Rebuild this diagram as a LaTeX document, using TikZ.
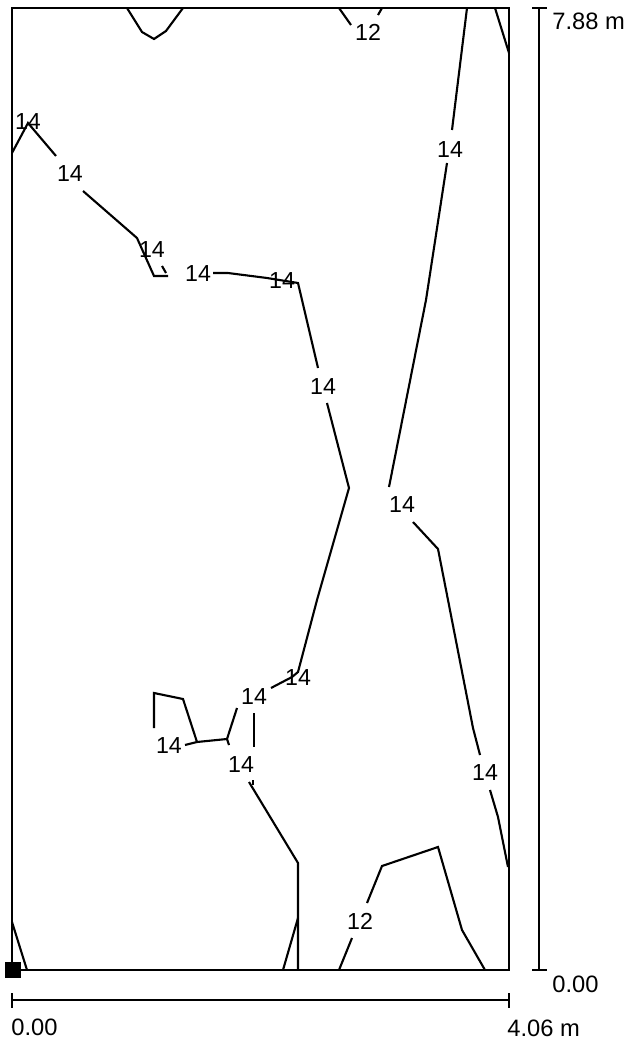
\documentclass[tikz,border=0pt]{standalone}
\usepackage{fontspec}
\setmainfont{Liberation Sans}
\usepackage{tikz}

\begin{document}
\begin{tikzpicture}[x=0.02cm, y=-0.02cm]
        % ================= styles =================
        \tikzset{
            frame/.style={line width=1.2pt, black},
            iso/.style={line width=1.2pt, black, line join=miter},
            lbl/.style={inner sep=0pt, font=\fontsize{13.2}{15}\selectfont},
            dimtxt/.style={inner sep=0pt, anchor=west, font=\fontsize{13.5}{15}\selectfont}
        }
        \useasboundingbox (0,0) rectangle (629,1040);

        % ================= room outline =================
        \draw[frame] (12,8) rectangle (509,970);
        \fill (5,962) rectangle (21,978);   % origin marker

        % ================= dimension lines =================
        \draw[frame] (539,8) -- (539,970);
        \draw[frame] (532,8) -- (547,8);
        \draw[frame] (532,970) -- (547,970);
        \node[dimtxt] (htop) at (552,21) {7.88 m};
        \node[dimtxt] (hbot) at (552,984) {0.00};

        \draw[frame] (12,1000) -- (509,1000);
        \draw[frame] (12,993) -- (12,1008);
        \draw[frame] (509,993) -- (509,1008);
        \node[dimtxt] (wleft) at (11,1027) {0.00};
        \node[dimtxt] (wright) at (507,1028) {4.06 m};

        % ================= top edge =================
        \draw[iso] (127,8) -- (142,32) -- (154,39) -- (166,31) -- (183,8);
        \draw[iso] (339,8) -- (351,25);
        \draw[iso] (378,15) -- (382,8);
        \node[lbl] (t12) at (368,32) {12};
        \draw[iso] (495,8) -- (509,53);

        % ================= right contour (14) =================
        \draw[iso] (467,8) -- (452,130);
        \node[lbl] (r1) at (450,150) {14};
        \draw[iso] (447,163) -- (426,300) -- (389,487);
        \node[lbl] (r2) at (402,505) {14};
        \draw[iso] (413,522) -- (438,549) -- (448,600) -- (473,728) -- (480,755);
        \node[lbl] (r3) at (485,773) {14};
        \draw[iso] (490,790) -- (498,817) -- (508,867);

        % ================= left/middle contour (14) =================
        \draw[iso] (12,153) -- (28,123) -- (56,156);
        \node[lbl] (l1) at (28,122) {14};
        \node[lbl] (l2) at (70,174) {14};
        \draw[iso] (83,191) -- (137,238) -- (154,276) -- (168,276);
        \draw[iso] (162,266) -- (166,273);
        \node[lbl] (l3) at (152,250) {14};
        \node[lbl] (l4) at (198,274) {14};
        \draw[iso] (213,273) -- (228,273) -- (267,278) -- (298,283)
            -- (318,368);
        \node[lbl] (l5) at (282,281) {14};
        \node[lbl] (m1) at (323,387) {14};
        \draw[iso] (327,403) -- (349,488) -- (317,600) -- (298,672)
            -- (292,677) -- (271,688);
        \node[lbl] (m2) at (298,678) {14};
        \node[lbl] (m3) at (254,697) {14};
        \draw[iso] (254,713) -- (254,747);
        \node[lbl] (m4) at (241,765) {14};
        \draw[iso] (253,780) -- (253,785);
        \draw[iso] (249,782) -- (298,863) -- (298,970);
        \draw[iso] (283,970) -- (298,918);

        % ================= small loop =================
        \draw[iso] (154,728) -- (154,693) -- (183,699) -- (197,742);
        \draw[iso] (185,745) -- (197,742) -- (227,739) -- (237,708);
        \draw[iso] (227,739) -- (229,745);
        \node[lbl] (s1) at (169,746) {14};

        % ================= bottom edge =================
        \draw[iso] (12,922) -- (27,970);
        \draw[iso] (339,970) -- (352,938);
        \node[lbl] (b12) at (360,921) {12};
        \draw[iso] (367,903) -- (382,866) -- (438,847) -- (462,930) -- (485,970);

    \end{tikzpicture}
\end{document}
